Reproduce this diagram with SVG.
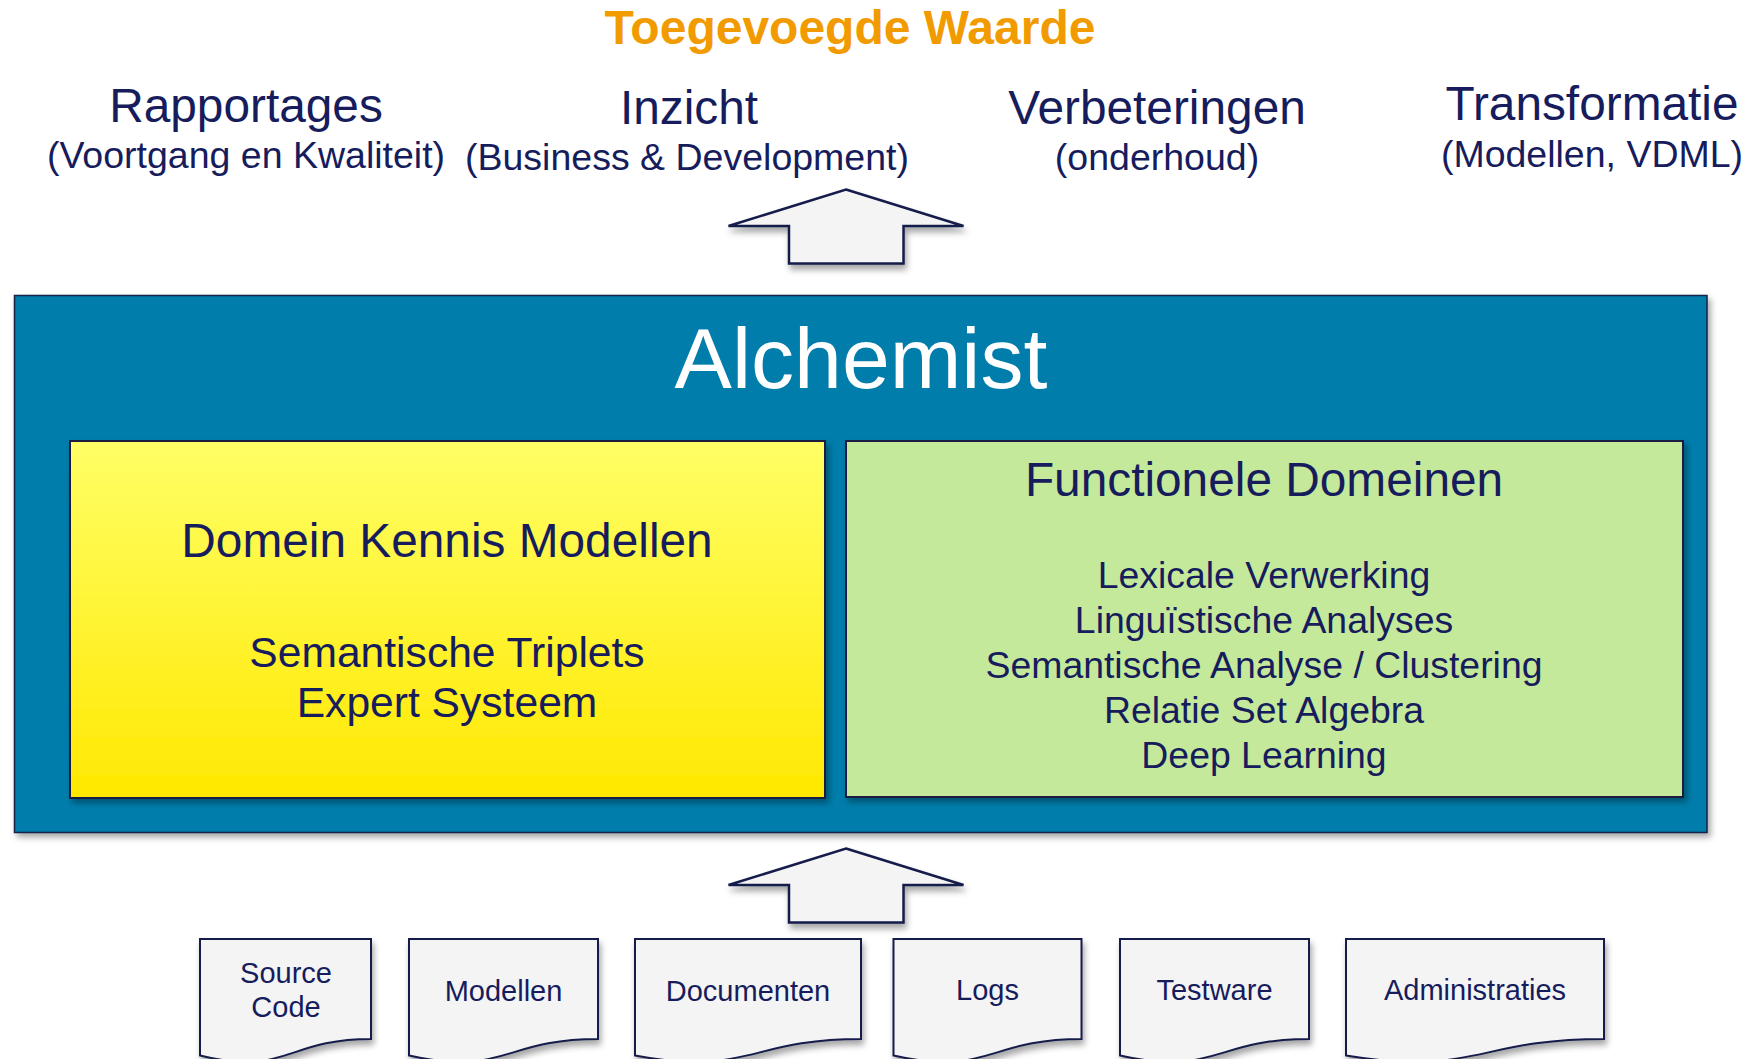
<svg xmlns="http://www.w3.org/2000/svg" width="1747" height="1059" viewBox="0 0 1747 1059">
  <style>
    text { font-family: "Liberation Sans", Arial, sans-serif; fill: #161c5c; text-anchor: middle; }
    .title { font-weight: bold; font-size: 48px; fill: #f29b00; }
    .head { font-size: 47.8px; }
    .sub { font-size: 37.5px; }
    .big { font-size: 86px; fill: #ffffff; }
    .item { font-size: 42.6px; }
    .fd { font-size: 37.4px; }
    .doc { fill: #f4f4f4; stroke: #161c4a; stroke-width: 2; filter: url(#shadow); }
    .doc-label { font-size: 29px; }
    .arrow { fill: #f4f4f4; stroke: #161c4a; stroke-width: 2.5; stroke-linejoin: miter; filter: url(#shadow); }
  </style>
  <defs>
    <filter id="shadow" x="-10%" y="-10%" width="130%" height="140%">
      <feDropShadow dx="2" dy="5" stdDeviation="3" flood-color="#000" flood-opacity="0.35"/>
    </filter>
    <filter id="shadowBox" x="-5%" y="-5%" width="110%" height="115%">
      <feDropShadow dx="3" dy="4" stdDeviation="3" flood-color="#000" flood-opacity="0.35"/>
    </filter>
    <linearGradient id="yellowGrad" x1="0" y1="0" x2="0" y2="1">
      <stop offset="0" stop-color="#ffff66"/>
      <stop offset="1" stop-color="#ffe800"/>
    </linearGradient>
  </defs>

  <rect width="1747" height="1059" fill="#ffffff"/>

  <!-- Value labels -->
  <g id="title">
    <text class="title" x="850" y="44">Toegevoegde Waarde</text>
  </g>
  <g id="rapportages">
    <text class="head" x="246" y="122">Rapportages</text>
    <text class="sub" x="246" y="168">(Voortgang en Kwaliteit)</text>
  </g>
  <g id="inzicht">
    <text class="head" x="689" y="124">Inzicht</text>
    <text class="sub" x="687" y="170">(Business &amp; Development)</text>
  </g>
  <g id="verbeteringen">
    <text class="head" x="1157" y="124">Verbeteringen</text>
    <text class="sub" x="1157" y="170">(onderhoud)</text>
  </g>
  <g id="transformatie">
    <text class="head" x="1592" y="120">Transformatie</text>
    <text class="sub" x="1592" y="167">(Modellen, VDML)</text>
  </g>

  <!-- Arrows -->
  <g id="connectors">
    <path class="arrow" d="M846,189.5 L963.5,226 L903.5,226 L903.5,263.5 L789,263.5 L789,226 L728.5,226 Z"/>
    <path class="arrow" d="M846,848.5 L963.5,885 L903.5,885 L903.5,922.5 L789,922.5 L789,885 L728.5,885 Z"/>
  </g>

  <!-- Alchemist container -->
  <g id="alchemist">
    <rect x="14.5" y="295.5" width="1692.5" height="537" fill="#007dab" stroke="#16204a" stroke-width="1.5" filter="url(#shadowBox)"/>
    <text class="big" x="861" y="388">Alchemist</text>
  </g>

  <g id="domein-kennis">
    <rect x="70" y="441" width="755" height="357" fill="url(#yellowGrad)" stroke="#1a1f40" stroke-width="2" filter="url(#shadowBox)"/>
    <text class="head" x="447" y="557">Domein Kennis Modellen</text>
    <text class="item" x="447" y="667">Semantische Triplets</text>
    <text class="item" x="447" y="717">Expert Systeem</text>
  </g>

  <g id="functionele-domeinen">
    <rect x="846" y="441" width="837" height="356" fill="#c5e99b" stroke="#1a1f40" stroke-width="2" filter="url(#shadowBox)"/>
    <text class="head" x="1264" y="496">Functionele Domeinen</text>
    <text class="fd" x="1264" y="588">Lexicale Verwerking</text>
    <text class="fd" x="1264" y="633">Linguïstische Analyses</text>
    <text class="fd" x="1264" y="678">Semantische Analyse / Clustering</text>
    <text class="fd" x="1264" y="723">Relatie Set Algebra</text>
    <text class="fd" x="1264" y="768">Deep Learning</text>
  </g>

  <!-- Source documents -->
  <g id="doc-source-code">
    <path class="doc" d="M200,939 H371 V1039 C285.5,1039 285.5,1077 200,1055.5 Z"/>
    <text class="doc-label" x="286" y="983">Source</text>
    <text class="doc-label" x="286" y="1017">Code</text>
  </g>
  <g id="doc-modellen">
    <path class="doc" d="M409,939 H598 V1039 C503.5,1039 503.5,1077 409,1055.5 Z"/>
    <text class="doc-label" x="503.5" y="1001">Modellen</text>
  </g>
  <g id="doc-documenten">
    <path class="doc" d="M635,939 H861 V1039 C748,1039 748,1077 635,1055.5 Z"/>
    <text class="doc-label" x="748" y="1001">Documenten</text>
  </g>
  <g id="doc-logs">
    <path class="doc" d="M893.5,939 H1081.5 V1039 C987.5,1039 987.5,1077 893.5,1055.5 Z"/>
    <text class="doc-label" x="987.5" y="1000">Logs</text>
  </g>
  <g id="doc-testware">
    <path class="doc" d="M1120,939 H1309 V1039 C1214.5,1039 1214.5,1077 1120,1055.5 Z"/>
    <text class="doc-label" x="1214.5" y="1000">Testware</text>
  </g>
  <g id="doc-administraties">
    <path class="doc" d="M1346,939 H1604 V1039 C1475,1039 1475,1077 1346,1055.5 Z"/>
    <text class="doc-label" x="1475" y="1000">Administraties</text>
  </g>
</svg>
